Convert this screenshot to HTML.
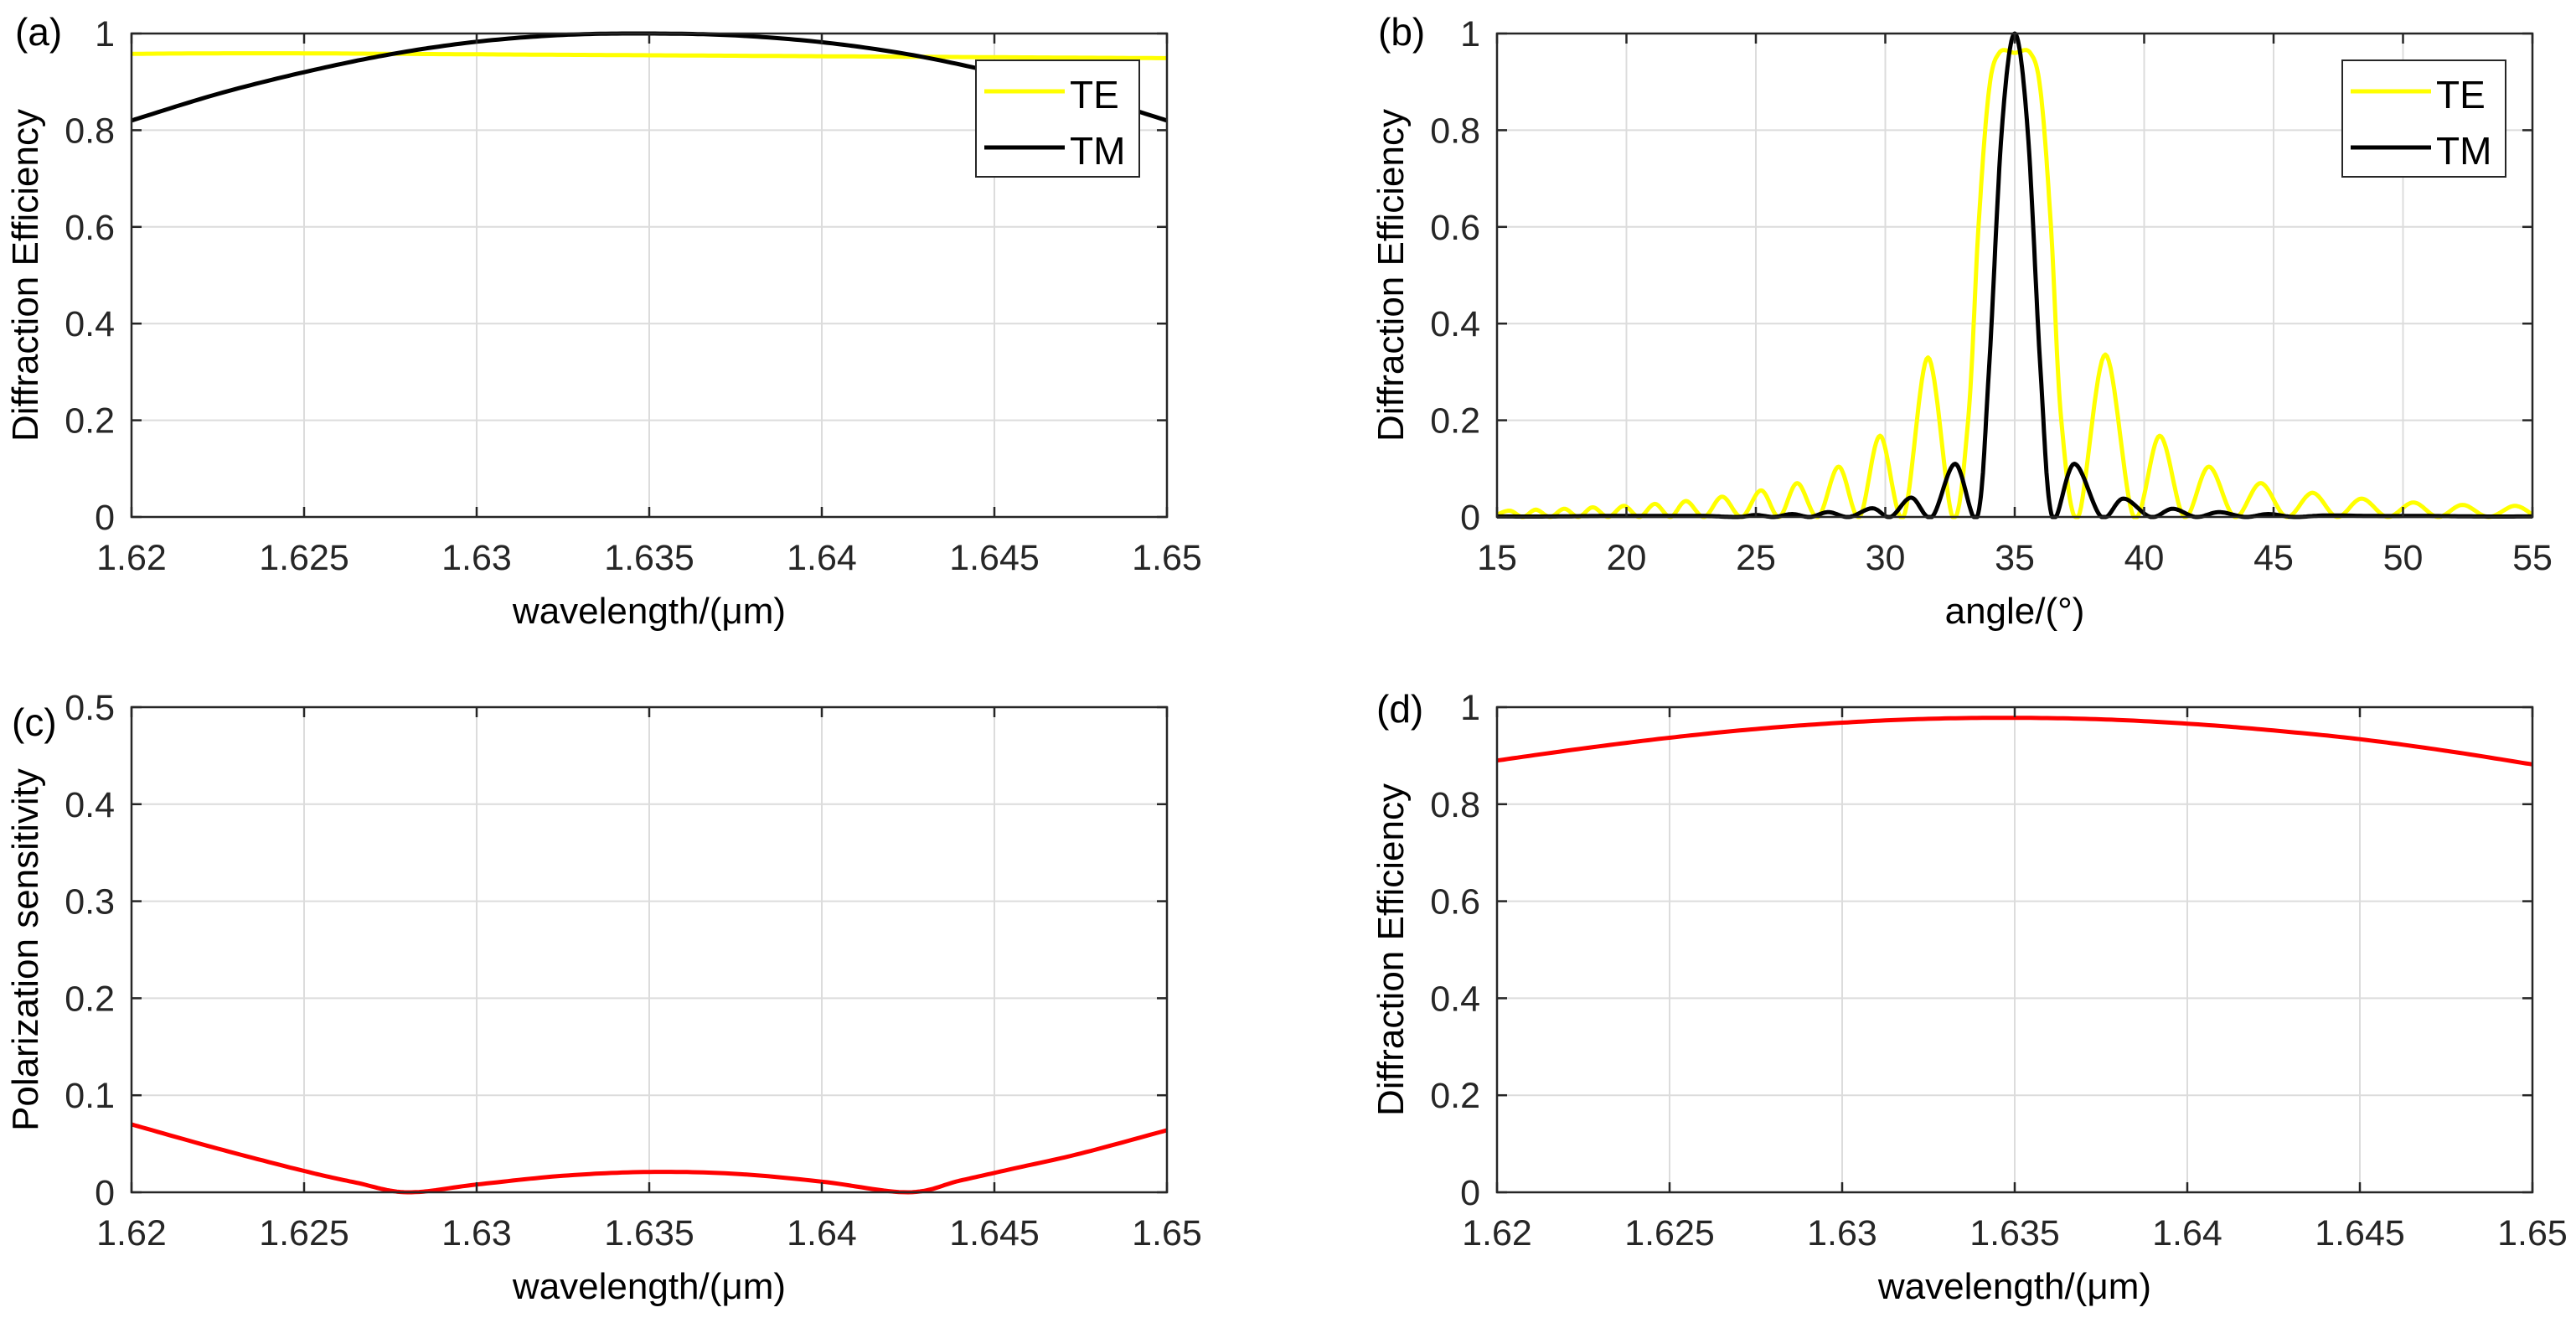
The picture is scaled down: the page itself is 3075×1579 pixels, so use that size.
<!DOCTYPE html>
<html><head><meta charset="utf-8">
<style>
html,body{margin:0;padding:0;background:#fff;}
svg{display:block;font-family:"Liberation Sans",Arial,sans-serif;}
</style></head>
<body>
<svg id="fig" width="3075" height="1579" viewBox="0 0 3075 1579" xmlns="http://www.w3.org/2000/svg"></svg>
<script>
// ---------- DATA ----------
// Panel (a)
const aWave = [1.62,1.6225,1.625,1.6275,1.63,1.6325,1.635,1.6375,1.64,1.6425,1.645,1.6475,1.65];
const aTE   = [0.958,0.959,0.959,0.958,0.957,0.956,0.955,0.954,0.953,0.952,0.951,0.950,0.949];
const aTM   = [0.82,0.875,0.92,0.957,0.983,0.997,1.0,0.996,0.982,0.957,0.92,0.875,0.82];
// Panel (b)
const bTEangle = [15,15.5,16,16.5,17.05,17.6,18.15,18.7,19.3,19.9,20.5,21.1,21.7,22.3,23.0,23.7,24.45,25.2,25.9,26.6,27.4,28.2,29.0,29.8,30.7,31.65,32.6,33.2,33.6,34.0,34.4,35.0,35.6,36.0,36.4,36.8,37.45,38.5,39.6,40.6,41.55,42.5,43.5,44.5,45.5,46.5,47.45,48.4,49.4,50.4,51.35,52.3,53.3,54.3,55];
const bTE      = [0.005,0.013,0,0.015,0,0.017,0,0.02,0,0.023,0,0.027,0,0.033,0,0.042,0,0.055,0,0.07,0,0.104,0,0.168,0,0.33,0,0.2,0.6,0.88,0.96,0.96,0.96,0.88,0.6,0.2,0,0.336,0,0.168,0,0.104,0,0.07,0,0.05,0,0.038,0,0.03,0,0.025,0,0.023,0.005];
const bTMangle = [15,17,19,21,23,24.3,25.0,25.7,26.4,27.1,27.8,28.6,29.5,30.2,31.0,31.8,32.7,33.55,34.0,34.5,35.0,35.5,36.0,36.45,37.3,38.35,39.2,40.25,41.1,42.0,42.9,43.9,44.8,45.8,47,49,51,53,55];
const bTM      = [0.001,0.001,0.002,0.002,0.002,0,0.004,0,0.006,0,0.01,0,0.018,0,0.04,0,0.11,0,0.3,0.8,1.0,0.8,0.3,0,0.11,0,0.038,0,0.017,0,0.01,0,0.006,0,0.003,0.002,0.002,0.001,0.001];
// Panel (c)
const cWave = [1.62,1.6225,1.625,1.6265,1.628,1.63,1.6325,1.635,1.6375,1.64,1.6425,1.644,1.6455,1.6475,1.65];
const cPS   = [0.070,0.045,0.022,0.01,0.0,0.008,0.017,0.021,0.019,0.011,0.0,0.012,0.024,0.04,0.064];
// Panel (d)
const dWave = [1.62,1.6225,1.625,1.6275,1.63,1.6325,1.635,1.6375,1.64,1.6425,1.645,1.6475,1.65];
const dDE   = [0.89,0.915,0.937,0.955,0.968,0.976,0.978,0.975,0.966,0.952,0.934,0.91,0.882];
// Ticks
const waveTicks = [1.62,1.625,1.63,1.635,1.64,1.645,1.65];
const waveTickLabels = ["1.62","1.625","1.63","1.635","1.64","1.645","1.65"];
const angleTicks = [15,20,25,30,35,40,45,50,55];
const deTicks = [0,0.2,0.4,0.6,0.8,1];
const deTickLabels = ["0","0.2","0.4","0.6","0.8","1"];
const psTicks = [0,0.1,0.2,0.3,0.4,0.5];
const psTickLabels = ["0","0.1","0.2","0.3","0.4","0.5"];

// ---------- DRAW ----------
const NS="http://www.w3.org/2000/svg";
const svg=document.getElementById('fig');
function mk(tag,attrs,parent){const e=document.createElementNS(NS,tag);for(const k in attrs)e.setAttribute(k,attrs[k]);(parent||svg).appendChild(e);return e;}

function catmull(xs,ys,sx,sy){
  // sample catmull-rom through data points, clamp to axis range
  const pts=[];
  const n=xs.length;
  for(let i=0;i<n-1;i++){
    const x0=xs[Math.max(0,i-1)],y0=ys[Math.max(0,i-1)];
    const x1=xs[i],y1=ys[i],x2=xs[i+1],y2=ys[i+1];
    const x3=xs[Math.min(n-1,i+2)],y3=ys[Math.min(n-1,i+2)];
    const steps=16;
    for(let s=0;s<steps;s++){
      const t=s/steps,t2=t*t,t3=t2*t;
      const f=(p0,p1,p2,p3)=>0.5*((2*p1)+(-p0+p2)*t+(2*p0-5*p1+4*p2-p3)*t2+(-p0+3*p1-3*p2+p3)*t3);
      let x=f(x0,x1,x2,x3), y=f(y0,y1,y2,y3);
      if(y<0)y=0;
      pts.push([sx(x),sy(y)]);
    }
  }
  pts.push([sx(xs[n-1]),sy(Math.max(0,ys[n-1]))]);
  return 'M'+pts.map(p=>p[0].toFixed(1)+','+p[1].toFixed(1)).join('L');
}

function panel(cfg){
  const g=mk('g',{});
  
  
  const {L,R,T,B,xmin,xmax,ymin,ymax}=cfg;
  const sx=v=>L+(v-xmin)/(xmax-xmin)*(R-L);
  const sy=v=>B-(v-ymin)/(ymax-ymin)*(B-T);
  // grid
  cfg.xticks.forEach((t,i)=>{
    const x=sx(t);
    if(i>0&&i<cfg.xticks.length-1){const l=mk('line',{x1:x,y1:T,x2:x,y2:B,stroke:'#dcdcdc','stroke-width':2},g);}
  });
  cfg.yticks.forEach((t,i)=>{
    const y=sy(t);
    if(i>0&&i<cfg.yticks.length-1){const l=mk('line',{x1:L,y1:y,x2:R,y2:y,stroke:'#dcdcdc','stroke-width':2},g);}
  });
  // series
  cfg.series.forEach(s=>{
    const p=mk('path',{d:catmull(s.x,s.y,sx,sy),fill:'none',stroke:s.color,'stroke-width':5,'stroke-linejoin':'round'},g);
    
    
  });
  // box
  const box=mk('rect',{x:L,y:T,width:R-L,height:B-T,fill:'none',stroke:'#262626','stroke-width':2.5},g);
  
  
  // ticks + labels
  cfg.xticks.forEach((t,i)=>{
    const x=sx(t);
    mk('line',{x1:x,y1:B,x2:x,y2:B-12,stroke:'#262626','stroke-width':2.5},g);
    mk('line',{x1:x,y1:T,x2:x,y2:T+12,stroke:'#262626','stroke-width':2.5},g);
    const tx=mk('text',{x:x,y:680,'font-size':43,'text-anchor':'middle',fill:'#262626'},g);
    tx.setAttribute('y',B+63);
    tx.textContent=cfg.xlabels?cfg.xlabels[i]:String(t);
    
    
  });
  cfg.yticks.forEach((t,i)=>{
    const y=sy(t);
    mk('line',{x1:L,y1:y,x2:L+12,y2:y,stroke:'#262626','stroke-width':2.5},g);
    mk('line',{x1:R,y1:y,x2:R-12,y2:y,stroke:'#262626','stroke-width':2.5},g);
    const ty=mk('text',{x:L-20,y:y+15,'font-size':43,'text-anchor':'end',fill:'#262626'},g);
    ty.textContent=cfg.ylabels[i];
    
    
  });
  const xl=mk('text',{x:(L+R)/2,y:B+127,'font-size':44,'text-anchor':'middle',fill:'#000'},g);
  xl.textContent=cfg.xtitle;
  
  
  const yx=L-112, yc=(T+B)/2;
  const yl=mk('text',{x:yx,y:yc,'font-size':44,'text-anchor':'middle',fill:'#000',transform:`rotate(-90 ${yx} ${yc})`},g);
  yl.textContent=cfg.ytitle;
  
  
  const pl=mk('text',{x:cfg.labX,y:cfg.labY,'font-size':46,fill:'#000'},g);
  pl.textContent=cfg.label;
  
  
  if(cfg.legend){
    const lg=mk('g',{},g);
    
    
    const lx=cfg.legend.x;
    mk('rect',{x:lx,y:72,width:195,height:139,fill:'#fff',stroke:'#262626','stroke-width':2},lg);
    [['TE','#ffff00',109,'legend-entry-te'],['TM','#000',176,'legend-entry-tm']].forEach(e=>{
      const eg=mk('g',{},lg);
      
      
      mk('line',{x1:lx+10,y1:e[2],x2:lx+106,y2:e[2],stroke:e[1],'stroke-width':5},eg);
      const t=mk('text',{x:lx+112,y:e[2]+20,'font-size':46,fill:'#000'},eg);
      t.textContent=e[0];
    });
  }
}

panel({name:'panel-a',L:157,R:1393,T:40,B:617,xmin:1.62,xmax:1.65,ymin:0,ymax:1,
  xticks:waveTicks,xlabels:waveTickLabels,yticks:deTicks,ylabels:deTickLabels,
  xtitle:'wavelength/(\u03BCm)',ytitle:'Diffraction Efficiency',label:'(a)',labX:18,labY:54,
  series:[{name:'te-line',x:aWave,y:aTE,color:'#ffff00'},{name:'tm-line',x:aWave,y:aTM,color:'#000'}],
  legend:{x:1165}});
panel({name:'panel-b',L:1787,R:3023,T:40,B:617,xmin:15,xmax:55,ymin:0,ymax:1,
  xticks:angleTicks,yticks:deTicks,ylabels:deTickLabels,
  xtitle:'angle/(\u00B0)',ytitle:'Diffraction Efficiency',label:'(b)',labX:1645,labY:54,
  series:[{name:'te-line',x:bTEangle,y:bTE,color:'#ffff00'},{name:'tm-line',x:bTMangle,y:bTM,color:'#000'}],
  legend:{x:2796}});
panel({name:'panel-c',L:157,R:1393,T:844,B:1423,xmin:1.62,xmax:1.65,ymin:0,ymax:0.5,
  xticks:waveTicks,xlabels:waveTickLabels,yticks:psTicks,ylabels:psTickLabels,
  xtitle:'wavelength/(\u03BCm)',ytitle:'Polarization sensitivity',label:'(c)',labX:14,labY:878,
  series:[{name:'sensitivity-line',x:cWave,y:cPS,color:'#ff0000'}]});
panel({name:'panel-d',L:1787,R:3023,T:844,B:1423,xmin:1.62,xmax:1.65,ymin:0,ymax:1,
  xticks:waveTicks,xlabels:waveTickLabels,yticks:deTicks,ylabels:deTickLabels,
  xtitle:'wavelength/(\u03BCm)',ytitle:'Diffraction Efficiency',label:'(d)',labX:1643,labY:862,
  series:[{name:'efficiency-line',x:dWave,y:dDE,color:'#ff0000'}]});
</script>
</body></html>
